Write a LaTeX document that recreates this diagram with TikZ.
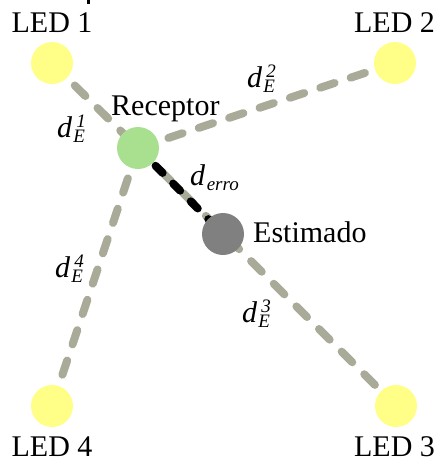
\documentclass[tikz,border=0pt]{standalone}
\usepackage{fontspec}
\setmainfont{Liberation Serif}

\definecolor{ledyellow}{RGB}{255,255,136}
\definecolor{rxgreen}{RGB}{168,224,144}
\definecolor{estgray}{RGB}{128,128,128}
\definecolor{linkgray}{RGB}{170,170,152}

% script-size italic used for indices
\newcommand\scr{\fontsize{19}{20}\selectfont\itshape}
% distance label d with a superscript and a subscript
\newcommand\dlab[2]{\textit{d}\kern1pt\makebox[0pt][l]{\kern3pt\raisebox{10pt}{\scr #1}}\raisebox{-5pt}{\scr #2}}
% distance label d with a subscript only
\newcommand\dsub[1]{\textit{d}\kern1.5pt\raisebox{-5pt}{\scr #1}}

\tikzset{
  dot/.style={circle, inner sep=0pt, minimum size=42pt},
  led/.style={dot, fill=ledyellow},
  link/.style={draw=linkgray, line width=8pt, line cap=round, dash pattern=on 15pt off 17pt},
  errlink/.style={draw=black, line width=8pt, line cap=round, dash pattern=on 10pt off 15pt},
  txt/.style={inner sep=0pt, font=\fontsize{30}{34}\selectfont},
}

\begin{document}
\begin{tikzpicture}[x=1pt, y=-1pt]
\useasboundingbox (0,0) rectangle (437,461);

% positions of the emitters, receiver and estimate
\coordinate (c1) at (52,63);
\coordinate (c2) at (395,63);
\coordinate (c3) at (396,406);
\coordinate (c4) at (52,406);
\coordinate (cr) at (138,148);
\coordinate (ce) at (223,234);

% distance links
\draw[link] (c1) -- (cr);
\draw[link] (cr) -- (c2);
\draw[link] (cr) -- (c4);
\draw[link] (cr) -- (c3);
\draw[errlink] (cr) -- (ce);

% discs
\node[led] (led1) at (c1) {};
\node[led] (led2) at (c2) {};
\node[led] (led3) at (c3) {};
\node[led] (led4) at (c4) {};
\node[dot, fill=rxgreen] (rx) at (cr) {};
\node[dot, fill=estgray] (est) at (ce) {};

% small mark at the top edge
\fill (86.5,0) rectangle (89.5,4);

% names
\node[txt, anchor=base] (t1) at (52,32) {LED 1};
\node[txt, anchor=base] (t2) at (394.5,32) {LED 2};
\node[txt, anchor=base] (t3) at (394.5,456) {LED 3};
\node[txt, anchor=base] (t4) at (52,456) {LED 4};
\node[txt, anchor=base west] (trx) at (111,115) {Receptor};
\node[txt, anchor=base west] (test) at (253,242) {Estimado};

% distance labels
\node[txt, anchor=base west] (l1) at (57,137) {\dlab{1}{E}};
\node[txt, anchor=base west] (l2) at (247,87) {\dlab{2}{E}};
\node[txt, anchor=base west] (l3) at (242,322) {\dlab{3}{E}};
\node[txt, anchor=base west] (l4) at (55,277) {\dlab{4}{E}};
\node[txt, anchor=base west] (le) at (190,185) {\dsub{erro}};
\end{tikzpicture}
\end{document}
